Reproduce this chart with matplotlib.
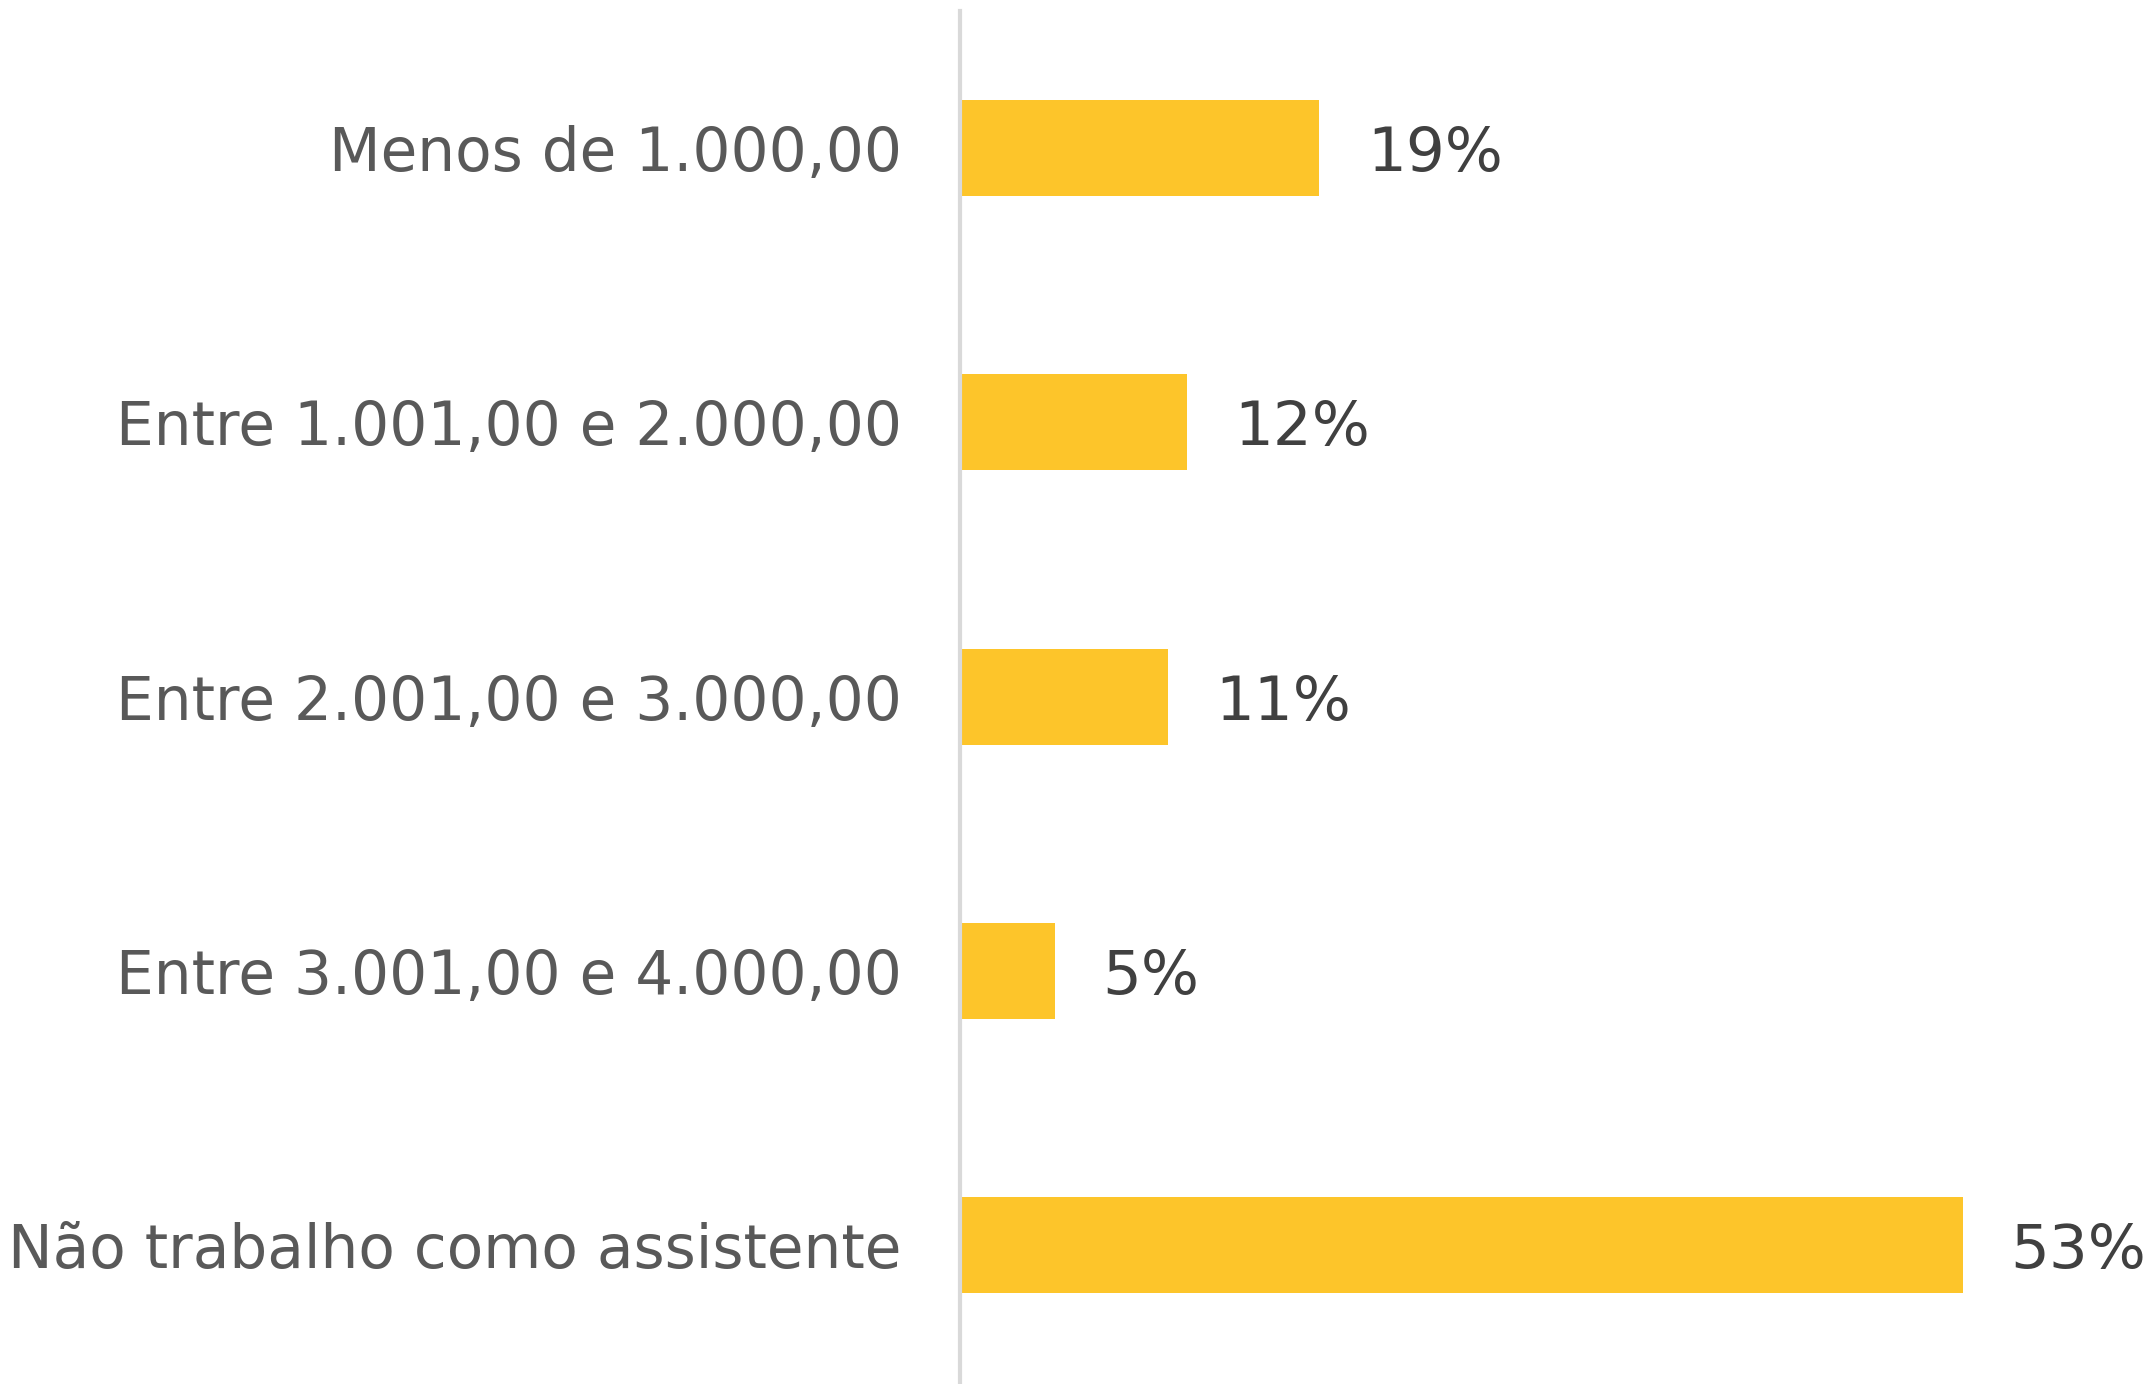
import matplotlib
matplotlib.use("Agg")
import matplotlib.pyplot as plt

# faixas de remuneração e percentuais
categorias = [
    "Menos de 1.000,00",
    "Entre 1.001,00 e 2.000,00",
    "Entre 2.001,00 e 3.000,00",
    "Entre 3.001,00 e 4.000,00",
    "Não trabalho como assistente",
]
percentuais = [19, 12, 11, 5, 53]
rotulos = ["19%", "12%", "11%", "5%", "53%"]

plt.rcParams["font.family"] = ["DejaVu Sans"]

fig = plt.figure(figsize=(21.51, 13.84), dpi=100)
ax = fig.add_axes([0.4463, 0.0014, 0.5537, 0.9906])

pos = list(range(len(categorias)))
ax.barh(pos, percentuais, height=0.35, color="#FDC52A", zorder=2)

# rótulos de valor à direita das barras
for y, v, txt in zip(pos, percentuais, rotulos):
    ax.text(v + 2.5, y, txt, va="center_baseline", ha="left", fontsize=44,
            color="#404040", clip_on=False)

ax.set_ylim(len(categorias) - 0.5, -0.5)
ax.set_xlim(0, 62.95)
ax.set_yticks(pos)
ax.set_yticklabels(categorias, fontsize=43, color="#595959",
                   va="center_baseline")
ax.tick_params(axis="y", length=0, pad=42)
ax.set_xticks([])

for lado in ["top", "right", "bottom"]:
    ax.spines[lado].set_visible(False)
ax.spines["left"].set_color("#D9D9D9")
ax.spines["left"].set_linewidth(3)

fig.savefig("out.png", dpi=100)
